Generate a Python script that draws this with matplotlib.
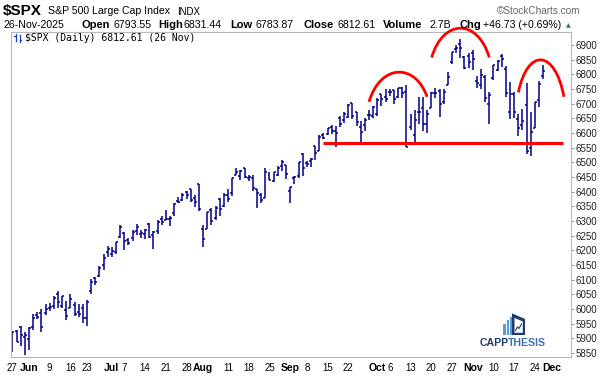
import matplotlib
matplotlib.use('Agg')
import matplotlib.pyplot as plt
from matplotlib.path import Path
from matplotlib.patches import PathPatch, Polygon, Rectangle
import numpy as np
import pandas as pd

# trading days shown (May 27 - Nov 26 2025)
holidays = ['2025-06-19', '2025-07-04', '2025-09-01']
dates = pd.bdate_range('2025-05-27', '2025-11-26')
dates = dates[~dates.isin(pd.to_datetime(holidays))]
future_days = pd.to_datetime(['2025-11-28', '2025-12-01'])

opens = [5854.1, 5925.5, 5939.9, 5903.7,
         5896.7, 5938.6, 5978.9, 5985.7, 5987.1, 6004.6, 6009.9, 6049.4, 6009.9, 5996.7,
         6004.0, 6012.2, 5987.9, 6004.0, 5969.7, 6061.8, 6104.2, 6112.1, 6150.7, 6193.4,
         6187.3, 6193.0, 6246.5, 6259.8, 6235.6, 6240.0, 6266.5, 6255.7, 6255.2, 6288.2,
         6251.9, 6266.2, 6305.2, 6304.7, 6306.6, 6326.9, 6368.6, 6370.0, 6397.7, 6409.3,
         6377.9, 6427.0,
         6271.7, 6271.7, 6336.0, 6309.3, 6374.3, 6351.8, 6389.7, 6395.2, 6457.1, 6453.9,
         6478.9, 6445.0, 6446.6, 6408.5, 6386.9, 6378.7, 6457.7, 6435.0, 6455.6, 6485.6,
         6492.2,
         6401.5, 6445.0, 6453.8, 6527.0, 6498.1, 6503.6, 6556.8, 6538.8, 6592.3, 6597.0,
         6620.6, 6605.2, 6650.2, 6644.2, 6653.2, 6700.7, 6669.7, 6619.9, 6625.4, 6661.6,
         6658.8,
         6664.9, 6731.3, 6722.1, 6740.0, 6746.6, 6721.6, 6753.7, 6740.0, 6620.0, 6592.7,
         6672.0, 6686.0, 6632.0, 6686.0, 6735.0, 6742.4, 6705.0, 6765.0, 6842.0, 6886.0,
         6904.0, 6860.0, 6863.0,
         6873.0, 6778.0, 6765.0, 6792.0, 6697.0, 6787.0, 6814.0, 6863.0, 6818.0, 6672.0,
         6733.0, 6648.0, 6627.0, 6696.0, 6548.0, 6617.0, 6711.0, 6793.6]
highs = [5924.3, 5929.0, 5943.1, 5922.1,
         5937.4, 5981.4, 5990.5, 5999.7, 6016.9, 6021.3, 6043.0, 6059.4, 6045.4, 6026.2,
         6050.8, 6023.3, 6018.2, 6018.2, 6028.8, 6101.8, 6108.5, 6146.5, 6187.7, 6215.1,
         6210.8, 6227.6, 6284.7, 6262.5, 6242.7, 6269.8, 6290.2, 6269.8, 6272.3, 6291.8,
         6266.0, 6301.5, 6315.6, 6336.1, 6316.1, 6360.6, 6381.3, 6395.8, 6401.1, 6409.3,
         6389.1, 6427.0,
         6287.3, 6330.0, 6343.8, 6350.4, 6376.8, 6395.2, 6409.3, 6446.9, 6480.3, 6473.8,
         6481.3, 6455.3, 6456.6, 6410.0, 6393.6, 6481.3, 6466.9, 6466.9, 6487.4, 6508.2,
         6492.2,
         6416.5, 6453.5, 6502.5, 6532.7, 6505.8, 6513.5, 6556.0, 6592.9, 6600.2, 6616.6,
         6626.9, 6624.4, 6656.4, 6671.8, 6699.5, 6702.3, 6670.5, 6639.3, 6649.3, 6679.7,
         6693.4,
         6718.0, 6731.9, 6750.9, 6749.5, 6747.1, 6753.9, 6755.3, 6764.2, 6664.0, 6677.0,
         6724.0, 6724.0, 6679.5, 6741.0, 6752.4, 6749.4, 6750.9, 6807.1, 6875.2, 6899.9,
         6920.3, 6862.0, 6871.3,
         6881.0, 6795.0, 6818.0, 6796.0, 6738.0, 6833.0, 6847.0, 6869.9, 6829.0, 6775.0,
         6741.0, 6666.0, 6682.0, 6770.0, 6671.0, 6707.0, 6776.0, 6831.4]
lows = [5854.1, 5886.8, 5873.8, 5843.7,
        5861.4, 5929.0, 5966.1, 5921.2, 5978.6, 5994.2, 6000.3, 6002.3, 6003.9, 5963.2,
        6004.0, 5974.8, 5971.9, 5952.6, 5943.2, 6051.7, 6080.4, 6107.3, 6132.4, 6177.0,
        6177.0, 6188.0, 6240.0, 6201.1, 6217.2, 6231.9, 6251.4, 6240.5, 6237.0, 6242.3,
        6202.7, 6256.9, 6285.3, 6303.8, 6281.7, 6317.5, 6360.6, 6368.5, 6375.7, 6365.0,
        6346.1, 6333.0,
        6212.7, 6271.7, 6284.7, 6303.6, 6317.8, 6346.7, 6364.6, 6385.8, 6456.9, 6441.1,
        6445.0, 6437.5, 6401.1, 6343.9, 6360.7, 6378.7, 6438.2, 6433.0, 6452.6, 6469.5,
        6444.3,
        6360.6, 6424.8, 6446.6, 6454.6, 6484.8, 6482.6, 6508.4, 6538.8, 6577.7, 6592.4,
        6596.6, 6551.2, 6619.3, 6633.4, 6651.9, 6645.7, 6624.1, 6569.2, 6604.9, 6645.4,
        6650.0,
        6656.2, 6693.2, 6705.7, 6726.2, 6699.6, 6718.9, 6717.8, 6550.8, 6610.0, 6570.2,
        6631.0, 6604.8, 6599.4, 6685.0, 6717.4, 6654.7, 6700.2, 6764.6, 6836.0, 6872.0,
        6855.0, 6818.0, 6822.0,
        6815.0, 6753.0, 6750.0, 6707.0, 6631.0, 6780.0, 6810.0, 6824.0, 6724.0, 6646.0,
        6650.0, 6589.0, 6609.0, 6527.0, 6521.0, 6617.0, 6689.0, 6783.9]
closes = [5921.5, 5888.6, 5912.2, 5911.7,
          5935.9, 5970.4, 5970.8, 5939.3, 6000.4, 6005.9, 6038.8, 6022.2, 6045.3, 5977.0,
          6033.1, 5982.7, 5980.9, 5967.8, 6025.2, 6092.2, 6092.2, 6141.0, 6173.1, 6205.0,
          6198.0, 6227.4, 6279.4, 6230.0, 6225.5, 6263.3, 6280.5, 6259.8, 6268.6, 6243.8,
          6263.7, 6297.4, 6296.8, 6305.6, 6309.6, 6358.9, 6363.4, 6388.6, 6389.8, 6370.9,
          6362.9, 6339.4,
          6238.0, 6329.9, 6299.2, 6345.1, 6340.0, 6389.5, 6373.5, 6445.8, 6466.6, 6468.5,
          6449.8, 6449.2, 6411.4, 6395.8, 6370.2, 6466.9, 6439.3, 6465.9, 6481.4, 6501.9,
          6460.3,
          6415.5, 6448.3, 6502.1, 6481.5, 6495.2, 6512.6, 6532.0, 6587.5, 6584.3, 6615.3,
          6606.8, 6600.4, 6632.0, 6664.4, 6693.8, 6656.9, 6638.0, 6604.7, 6643.7, 6661.2,
          6688.5,
          6711.2, 6715.4, 6715.8, 6740.3, 6714.6, 6753.7, 6735.1, 6552.5, 6654.7, 6644.3,
          6671.1, 6629.1, 6664.0, 6735.1, 6735.4, 6699.4, 6738.4, 6791.7, 6875.2, 6890.9,
          6890.6, 6822.3, 6840.2,
          6852.0, 6771.6, 6796.3, 6720.3, 6728.8, 6832.4, 6846.6, 6850.9, 6737.5, 6734.1,
          6672.4, 6617.3, 6642.2, 6538.8, 6603.0, 6705.1, 6765.9, 6812.6]

tick_dates = ['2025-05-27', '2025-06-02', '2025-06-09', '2025-06-16', '2025-06-23',
              '2025-07-01', '2025-07-07', '2025-07-14', '2025-07-21', '2025-07-28',
              '2025-08-01', '2025-08-11', '2025-08-18', '2025-08-25',
              '2025-09-02', '2025-09-08', '2025-09-15', '2025-09-22',
              '2025-10-01', '2025-10-06', '2025-10-13', '2025-10-20', '2025-10-27',
              '2025-11-03', '2025-11-10', '2025-11-17', '2025-11-24', '2025-12-01']
tick_labels = ['27', 'Jun', '9', '16', '23', 'Jul', '7', '14', '21', '28',
               'Aug', '11', '18', '25', 'Sep', '8', '15', '22',
               'Oct', '6', '13', '20', '27', 'Nov', '10', '17', '24', 'Dec']
y_ticks = list(range(5850, 6901, 50))

# hand drawn annotations (bar index, price)
support_level = 6565
support_span = (74.9, 132.8)
arcs = [[(86.0, 6706), (93.7, 6807), (100.0, 6723)],
        [(101.1, 6857), (108.7, 6957), (115.0, 6857)],
        [(122.0, 6738), (128.0, 6849), (133.0, 6723)]]

W, H = 603, 383
fig = plt.figure(figsize=(W / 100, H / 100), dpi=100)
plt.rcParams['font.family'] = ['Liberation Sans', 'DejaVu Sans']

ax = fig.add_axes([10.5 / W, 1 - 357 / H, (571 - 10.5) / W, (357 - 32) / H])

x = np.arange(len(dates))
bar_col = '#000088'
ax.vlines(x, lows, highs, color=bar_col, lw=1.1)
ax.hlines(opens, x - 0.48, x, color=bar_col, lw=1.1)
ax.hlines(closes, x, x + 0.48, color=bar_col, lw=1.1)

# support + tops
ax.hlines(support_level, support_span[0], support_span[1], color='#ff0000', lw=2.2, zorder=3)
for s, p, e in arcs:
    w = e[0] - s[0]
    yc = (8 * p[1] - s[1] - e[1]) / 6.0
    verts = [s, (s[0] + 0.2 * w, yc), (e[0] - 0.2 * w, yc), e]
    path = Path(verts, [Path.MOVETO, Path.CURVE4, Path.CURVE4, Path.CURVE4])
    ax.add_patch(PathPatch(path, fill=False, edgecolor='#ff0000', lw=2.0,
                           clip_on=False, zorder=4))

ax.set_xlim(-0.45, 134.7)
ax.set_ylim(5836, 6944)

slots = list(dates) + list(future_days)
tick_pos = [slots.index(pd.Timestamp(d)) for d in tick_dates]
ax.set_xticks(tick_pos)
ax.set_xticklabels(tick_labels, fontsize=7)
for lab in ax.get_xticklabels():
    if lab.get_text().isalpha():
        lab.set_fontweight('bold')
        lab.set_fontsize(7.5)
ax.tick_params(axis='x', length=0, pad=4)

ax.yaxis.tick_right()
ax.set_yticks(y_ticks)
ax.set_yticklabels([str(v) for v in y_ticks], fontsize=7, color='#222222')
ax.tick_params(axis='y', length=2, width=0.6, color='#888888', pad=1)

for sp in ax.spines.values():
    sp.set_color('#b8b8b8')
    sp.set_linewidth(0.8)
ax.spines['bottom'].set_linestyle((0, (1, 1)))

# overlay in pixel coordinates for header, legend and logo
ov = fig.add_axes([0, 0, 1, 1], zorder=5)
ov.set_xlim(0, W)
ov.set_ylim(H, 0)
ov.axis('off')

ov.text(3, 11.5, '$SPX', fontsize=11, fontweight='bold', va='center')
ov.text(48, 11.5, 'S&P 500 Large Cap Index', fontsize=7.6, va='center')
ov.text(177, 12, 'INDX', fontsize=7, va='center')
ov.text(580, 11.5, '\u00a9StockCharts.com', fontsize=7.2, color='#666666',
        va='center', ha='right')

row2 = [(3, '26-Nov-2025', 'normal'), (82, 'Open', 'bold'), (113, '6793.55', 'normal'),
        (158, 'High', 'bold'), (183, '6831.44', 'normal'), (230, 'Low', 'bold'),
        (256, '6783.87', 'normal'), (304, 'Close', 'bold'), (337, '6812.61', 'normal'),
        (383, 'Volume', 'bold'), (430, '2.7B', 'normal'), (460, 'Chg', 'bold'),
        (483, '+46.73 (+0.69%)', 'normal')]
for px, s, fw in row2:
    ov.text(px, 25, s, fontsize=8 if fw == 'bold' else 7.6, fontweight=fw, va='center')
ov.text(568, 25.5, '\u25b2', fontsize=4.5, color='#2e7d32', va='center', ha='center',
        family='DejaVu Sans')

# legend line inside chart
ov.plot([15.5, 15.5], [34, 41], color='#2040c0', lw=0.9)
ov.plot([14, 15.5], [36, 36], color='#2040c0', lw=0.9)
ov.plot([19.5, 19.5], [35, 42], color='#2040c0', lw=0.9)
ov.plot([19.5, 21], [40, 40], color='#2040c0', lw=0.9)
ov.text(25, 38, '$SPX (Daily) 6812.61 (26 Nov)', fontsize=7, va='center',
        family='DejaVu Sans Mono')

# CAPPTHESIS logo
light = '#5b9bd5'
navy = '#1f3a6e'
ov.add_patch(Rectangle((503.3, 323.5), 2.4, 11.5, color=light, lw=0))
ov.add_patch(Rectangle((506.7, 320.0), 2.4, 15.0, color=light, lw=0))
ov.add_patch(Rectangle((510.0, 316.7), 2.0, 18.3, color=light, lw=0))
ov.add_patch(Polygon([(512, 313.3), (525, 319), (525, 335), (512, 335)], closed=True,
                     color=navy, lw=0))
ov.add_patch(Polygon([(514.5, 318), (522.8, 321.5), (522.8, 332.8), (514.5, 332.8)],
                     closed=True, color='white', lw=0))
ov.plot([515.5, 517.5, 519, 521.5], [330.5, 327, 328.5, 324], color=navy, lw=0.8)
ov.text(480, 343, 'CAPP', fontsize=7.6, fontweight='bold', color=navy, va='center')
ov.text(507.5, 343, 'THESIS', fontsize=7.6, fontweight='bold', color='#3f6fb6',
        va='center')

fig.savefig('out.png', dpi=100)
